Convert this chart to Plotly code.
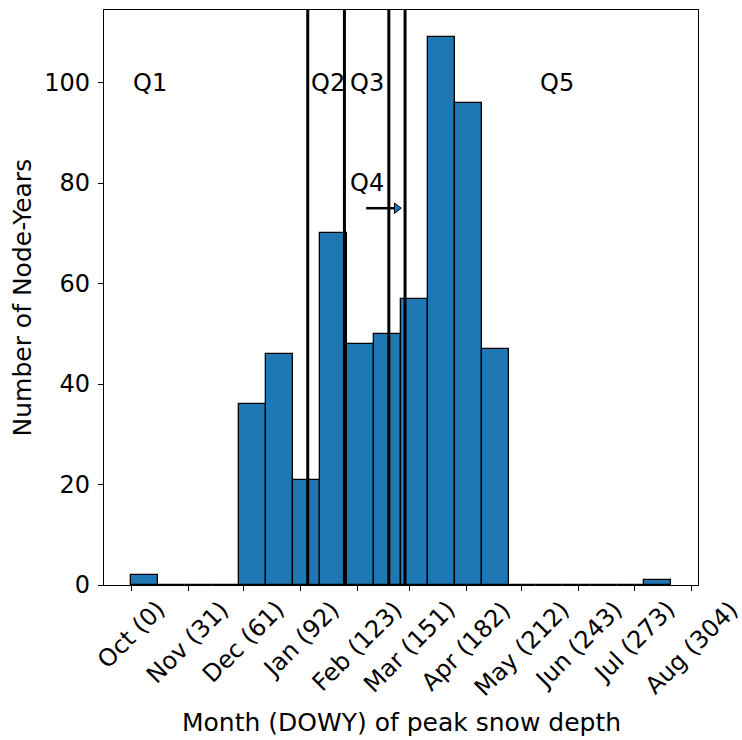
import numpy as np
import plotly.graph_objects as go

# Histogram of peak snow depth day-of-water-year (DOWY), 20 equal bins over 0..293
bin_start = 0.0
bin_end = 293.0
n_bins = 20
counts = [2, 0, 0, 0, 36, 46, 21, 70, 48, 50, 57, 109, 96, 47, 0, 0, 0, 0, 0, 1]

# Month tick positions (DOWY) and labels
tick_vals = [0, 31, 61, 92, 123, 151, 182, 212, 243, 273, 304]
tick_labels = ["Oct (0)", "Nov (31)", "Dec (61)", "Jan (92)", "Feb (123)", "Mar (151)",
               "Apr (182)", "May (212)", "Jun (243)", "Jul (273)", "Aug (304)"]
y_ticks = [0, 20, 40, 60, 80, 100]

# Quantile boundary lines (DOWY)
quantile_lines = [95.9, 115.8, 139.9, 148.7]

# Region labels: text, x (DOWY), y (count)
region_text = ["Q1", "Q2", "Q3", "Q4", "Q5"]
region_x = [0, 96.5, 117.5, 117.5, 221]
region_y = [100.0, 100.0, 100.0, 80.0, 100.0]

# Arrow pointing at the Q4 strip
arrow_x0, arrow_x1, arrow_y = 127.6, 143.0, 75.0
arrow_tip_x = 144.2

FONT = "DejaVu Sans"
BLUE = "#1f77b4"
TICK_SIZE = 24
LABEL_SIZE = 25

edges = np.linspace(bin_start, bin_end, n_bins + 1)
bw = edges[1] - edges[0]
pad = 0.05 * (bin_end - bin_start)

fig = go.Figure()
fig.add_trace(go.Bar(
    x=edges[:-1], y=counts, width=bw, offset=0,
    marker=dict(color=BLUE, line=dict(color="black", width=1.3)),
    hoverinfo="skip", showlegend=False,
))

# arrow head
fig.add_trace(go.Scatter(
    x=[arrow_tip_x], y=[arrow_y], mode="markers",
    marker=dict(symbol="triangle-right", size=9, color=BLUE,
                line=dict(color="black", width=1)),
    hoverinfo="skip", showlegend=False,
))

shapes = []
for q in quantile_lines:
    shapes.append(dict(type="line", xref="x", yref="paper", x0=q, x1=q, y0=0, y1=1,
                       line=dict(color="black", width=3)))
shapes.append(dict(type="line", xref="x", yref="y", x0=arrow_x0, x1=arrow_x1,
                   y0=arrow_y, y1=arrow_y, line=dict(color="black", width=2.5)))

annotations = []
for t, x, y in zip(region_text, region_x, region_y):
    annotations.append(dict(text=t, x=x, y=y, xref="x", yref="y", showarrow=False,
                            xanchor="left", yanchor="middle",
                            font=dict(family=FONT, size=TICK_SIZE, color="black")))

# rotated month labels centred under their ticks
for v, lab in zip(tick_vals, tick_labels):
    annotations.append(dict(text=lab, x=v, y=0, xref="x", yref="paper", showarrow=False,
                            textangle=-45, xanchor="center", yanchor="top", yshift=-8,
                            font=dict(family=FONT, size=TICK_SIZE, color="black")))

annotations.append(dict(text="Month (DOWY) of peak snow depth", x=0.5, y=0,
                        xref="paper", yref="paper", showarrow=False,
                        xanchor="center", yanchor="middle", yshift=-137,
                        font=dict(family=FONT, size=LABEL_SIZE, color="black")))
annotations.append(dict(text="Number of Node-Years", x=0, y=0.5,
                        xref="paper", yref="paper", showarrow=False, textangle=-90,
                        xanchor="center", yanchor="middle", xshift=-82,
                        font=dict(family=FONT, size=LABEL_SIZE, color="black")))

fig.update_layout(
    width=742, height=740,
    margin=dict(l=104, r=44, t=10, b=155, pad=0),
    paper_bgcolor="white", plot_bgcolor="white",
    bargap=0, shapes=shapes, annotations=annotations,
    font=dict(family=FONT, size=TICK_SIZE, color="black"),
)
fig.update_xaxes(
    range=[bin_start - pad, bin_end + pad], tickvals=tick_vals, showticklabels=False,
    ticks="outside", ticklen=5, tickwidth=1.1, tickcolor="black",
    showline=True, linecolor="black", linewidth=1.1, mirror=True,
    showgrid=False, zeroline=False,
)
fig.update_yaxes(
    range=[0, max(counts) * 1.05], tickvals=y_ticks,
    ticks="outside", ticklen=5, tickwidth=1.1, tickcolor="black",
    tickfont=dict(family=FONT, size=TICK_SIZE, color="black"), ticklabelstandoff=3,
    showline=True, linecolor="black", linewidth=1.1, mirror=True,
    showgrid=False, zeroline=False,
)

fig.write_html("out.html")
